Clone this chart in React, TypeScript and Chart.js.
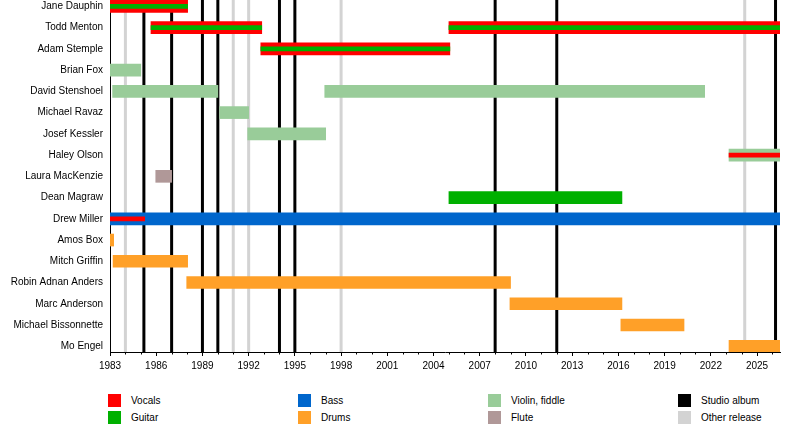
import React, { useEffect, useRef } from 'react';
import { Chart, registerables } from 'chart.js';

Chart.register(...registerables);

type Span = [string, number, number];

const members = [
    'Jane Dauphin',
    'Todd Menton',
    'Adam Stemple',
    'Brian Fox',
    'David Stenshoel',
    'Michael Ravaz',
    'Josef Kessler',
    'Haley Olson',
    'Laura MacKenzie',
    'Dean Magraw',
    'Drew Miller',
    'Amos Box',
    'Mitch Griffin',
    'Robin Adnan Anders',
    'Marc Anderson',
    'Michael Bissonnette',
    'Mo Engel',
];

const START = 1983;
const END = 2026.49;

const vocals: Span[] = [
    ['Jane Dauphin', 1983, 1988.04],
    ['Todd Menton', 1985.66, 1992.85],
    ['Todd Menton', 2005.0, END],
    ['Adam Stemple', 1992.79, 2005.06],
    ['Haley Olson', 2023.18, END],
    ['Drew Miller', 1983, 1985.25],
];
const guitar: Span[] = [
    ['Jane Dauphin', 1983, 1988.04],
    ['Todd Menton', 1985.66, 1992.85],
    ['Todd Menton', 2005.0, END],
    ['Adam Stemple', 1992.79, 2005.06],
    ['Dean Magraw', 2005.0, 2016.23],
];
const bass: Span[] = [['Drew Miller', 1983, END]];
const drums: Span[] = [
    ['Amos Box', 1983, 1983.24],
    ['Mitch Griffin', 1983.2, 1988.04],
    ['Robin Adnan Anders', 1987.98, 2009.0],
    ['Marc Anderson', 2008.96, 2016.23],
    ['Michael Bissonnette', 2016.16, 2020.26],
    ['Mo Engel', 2023.18, END],
];
const violin: Span[] = [
    ['Brian Fox', 1983, 1985.0],
    ['David Stenshoel', 1983.17, 1990.0],
    ['David Stenshoel', 1996.94, 2021.6],
    ['Michael Ravaz', 1990.12, 1992.0],
    ['Josef Kessler', 1991.94, 1997.0],
    ['Haley Olson', 2023.18, END],
];
const flute: Span[] = [['Laura MacKenzie', 1985.97, 1987.0]];

// second instrument of a member, drawn as a thin line inside the main bar
const stripes: [string, string][] = [
    ['Jane Dauphin', 'Guitar'],
    ['Todd Menton', 'Guitar'],
    ['Adam Stemple', 'Guitar'],
    ['Haley Olson', 'Vocals'],
    ['Drew Miller', 'Vocals'],
];

const studioAlbums = [1985.2, 1987, 1989, 1990, 1994, 1995, 2008, 2012, 2026.2];
const otherReleases = [1984, 1991, 1992, 1998, 2024.2];

const instruments: { label: string; color: string; spans: Span[] }[] = [
    { label: 'Vocals', color: '#ff0000', spans: vocals },
    { label: 'Guitar', color: '#00b000', spans: guitar },
    { label: 'Bass', color: '#0066cc', spans: bass },
    { label: 'Drums', color: '#ffa028', spans: drums },
    { label: 'Violin, fiddle', color: '#99cc99', spans: violin },
    { label: 'Flute', color: '#b09898', spans: flute },
];

const legendItems: [string, string][] = [
    ['Vocals', '#ff0000'],
    ['Guitar', '#00b000'],
    ['Bass', '#0066cc'],
    ['Drums', '#ffa028'],
    ['Violin, fiddle', '#99cc99'],
    ['Flute', '#b09898'],
    ['Studio album', '#000000'],
    ['Other release', '#d3d3d3'],
];

const FONT = '"Liberation Sans", Arial, sans-serif';

const isMajor = (year: number) => (year - START) % 3 === 0;

const isStripe = (name: string, inst: string) =>
    stripes.some(([m, i]) => m === name && i === inst);

const toPoints = (spans: Span[]) =>
    spans.map(([name, from, to]) => ({ x: [from, to], y: members.indexOf(name) }));

const releaseLines = {
    id: 'releaseLines',
    beforeDatasetsDraw(chart: any) {
        const { ctx, chartArea, scales } = chart;
        ctx.save();
        ctx.lineWidth = 3;
        const draw = (years: number[], color: string) => {
            ctx.strokeStyle = color;
            years.forEach((yr) => {
                const px = scales.x.getPixelForValue(yr);
                ctx.beginPath();
                ctx.moveTo(px, chartArea.top);
                ctx.lineTo(px, chartArea.bottom);
                ctx.stroke();
            });
        };
        draw(otherReleases, '#d3d3d3');
        draw(studioAlbums, '#000000');
        ctx.restore();
    },
};

// short marks for the years without a label
const minorTicks = {
    id: 'minorTicks',
    afterDraw(chart: any) {
        const { ctx, chartArea, scales } = chart;
        ctx.save();
        ctx.strokeStyle = '#000';
        ctx.lineWidth = 1;
        scales.x.ticks.forEach((t: any) => {
            if (isMajor(t.value)) return;
            const px = Math.round(scales.x.getPixelForValue(t.value)) + 0.5;
            ctx.beginPath();
            ctx.moveTo(px, chartArea.bottom);
            ctx.lineTo(px, chartArea.bottom + 2.5);
            ctx.stroke();
        });
        ctx.restore();
    },
};

const Timeline: React.FC = () => {
    const canvasRef = useRef<HTMLCanvasElement | null>(null);
    const chartRef = useRef<Chart | null>(null);

    useEffect(() => {
        document.body.style.margin = '0';
        if (!canvasRef.current) return;

        const stripeSets = instruments.map((inst) => ({
            label: inst.label + ' (2nd)',
            data: toPoints(inst.spans.filter(([m]) => isStripe(m, inst.label))),
            backgroundColor: inst.color,
            barThickness: 4,
        }));
        const mainSets = instruments.map((inst) => ({
            label: inst.label,
            data: toPoints(inst.spans.filter(([m]) => !isStripe(m, inst.label))),
            backgroundColor: inst.color,
            barThickness: 12,
        }));

        chartRef.current = new Chart(canvasRef.current, {
            type: 'bar',
            data: {
                datasets: [...stripeSets, ...mainSets].map((d) => ({
                    ...d,
                    grouped: false,
                    borderWidth: 0,
                    borderSkipped: false,
                })) as any,
            },
            options: {
                indexAxis: 'y',
                responsive: false,
                animation: false,
                layout: { padding: { top: 0, right: 20, bottom: 0, left: 0 } },
                plugins: {
                    legend: { display: false },
                    tooltip: { enabled: false },
                },
                scales: {
                    x: {
                        type: 'linear',
                        offset: false,
                        min: START,
                        max: END,
                        afterBuildTicks: (scale: any) => {
                            const ticks = [];
                            for (let y = START; y <= Math.floor(END); y++) ticks.push({ value: y });
                            scale.ticks = ticks;
                        },
                        afterFit: (scale: any) => {
                            scale.height = 28;
                            scale.paddingLeft = 0;
                            scale.paddingRight = 0;
                        },
                        ticks: {
                            autoSkip: false,
                            maxRotation: 0,
                            padding: 4,
                            color: '#000',
                            font: { family: FONT, size: 10 },
                            callback: (v: any) => (isMajor(v) ? String(v) : ''),
                        },
                        grid: {
                            offset: false,
                            drawOnChartArea: false,
                            drawTicks: true,
                            tickLength: 4,
                            color: '#000',
                            tickColor: (c: any) => (c.tick && isMajor(c.tick.value) ? '#000' : 'rgba(0,0,0,0)'),
                        },
                        border: { display: true, color: '#000', width: 1 },
                    },
                    y: {
                        type: 'linear',
                        offset: false,
                        reverse: true,
                        min: -0.3,
                        max: 16.27,
                        afterBuildTicks: (scale: any) => {
                            scale.ticks = members.map((_, i) => ({ value: i }));
                        },
                        afterFit: (scale: any) => {
                            scale.width = 110;
                            scale.paddingTop = 0;
                            scale.paddingBottom = 0;
                        },
                        ticks: {
                            autoSkip: false,
                            padding: 7,
                            color: '#000',
                            font: { family: FONT, size: 10 },
                            callback: (v: any) => members[v] ?? '',
                        },
                        grid: { display: false, drawTicks: false, offset: false },
                        border: { display: true, color: '#000', width: 1 },
                    },
                },
            },
            plugins: [releaseLines, minorTicks],
        });

        return () => {
            if (chartRef.current) {
                chartRef.current.destroy();
                chartRef.current = null;
            }
        };
    }, []);

    return <canvas ref={canvasRef} width={800} height={380} style={{ display: 'block' }} />;
};

const App: React.FC = () => {
    const colX = [108, 298, 488, 678];
    const rowY = [394, 411];
    return (
        <div style={{ position: 'relative', width: 800, height: 432, fontFamily: FONT }}>
            <Timeline />
            {legendItems.map(([label, color], i) => (
                <div
                    key={label}
                    style={{
                        position: 'absolute',
                        left: colX[Math.floor(i / 2)],
                        top: rowY[i % 2],
                        display: 'flex',
                        alignItems: 'center',
                        height: 13,
                        fontSize: 10,
                        color: '#000',
                        whiteSpace: 'nowrap',
                    }}
                >
                    <span style={{ width: 13, height: 13, background: color, marginRight: 10 }} />
                    <span style={{ lineHeight: '13px' }}>{label}</span>
                </div>
            ))}
        </div>
    );
};

export default App;
